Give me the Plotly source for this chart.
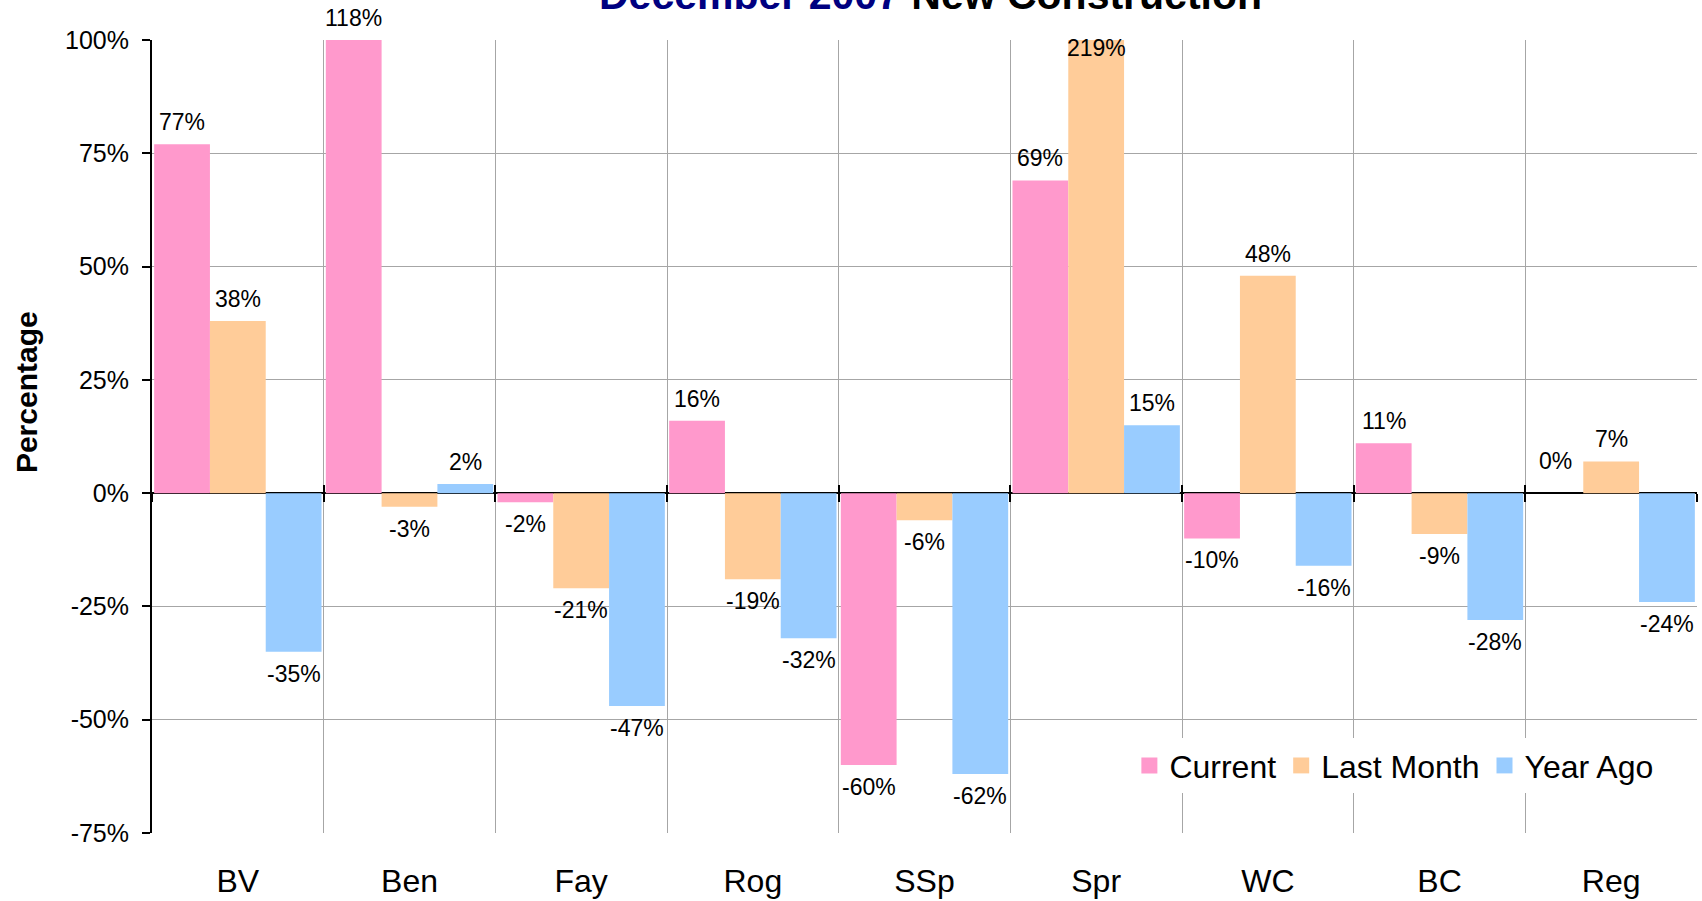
import plotly.graph_objects as go

categories = ["BV", "Ben", "Fay", "Rog", "SSp", "Spr", "WC", "BC", "Reg"]
current = [77, 118, -2, 16, -60, 69, -10, 11, 0]
last_month = [38, -3, -21, -19, -6, 219, 48, -9, 7]
year_ago = [-35, 2, -47, -32, -62, 15, -16, -28, -24]
series_names = ["Current", "Last Month", "Year Ago"]
series_values = [current, last_month, year_ago]
colors = ["#FF99CC", "#FFCC99", "#99CCFF"]
y_ticks = [-75, -50, -25, 0, 25, 50, 75, 100]
y_min, y_max = -75, 100

FONT = "Liberation Sans, Arial, sans-serif"

fig = go.Figure()
for name, vals, col in zip(series_names, series_values, colors):
    fig.add_trace(go.Bar(
        x=categories, y=[v / 100 for v in vals], name=name,
        marker=dict(color=col, line=dict(width=0)),
        hoverinfo="x+y+name", showlegend=False,
    ))

# legend entries with larger square swatches
for name, col in zip(series_names, colors):
    fig.add_trace(go.Scatter(
        x=[None], y=[None], mode="markers", name=name,
        marker=dict(symbol="square", size=22, color=col),
        showlegend=True, hoverinfo="skip",
    ))

# invisible traces to carry the zero-line tick axes
for ax in ["x2", "x3"]:
    fig.add_trace(go.Bar(x=categories, y=[None] * len(categories), xaxis=ax,
                         showlegend=False, hoverinfo="skip"))

# data labels
n = len(series_names)
width = 0.975
label_overrides = {("Spr", "Last Month"): -8, ("Reg", "Current"): 32}
annotations = []
for si, (name, vals) in enumerate(zip(series_names, series_values)):
    for ci, (cat, v) in enumerate(zip(categories, vals)):
        off = (si - (n - 1) / 2) * width / n
        yv = max(min(v, y_max), y_min) / 100
        ys = 22 if v >= 0 else -22
        ys = label_overrides.get((cat, name), ys)
        annotations.append(dict(
            x=ci + off, y=yv, xref="x", yref="y", text=f"{v}%",
            showarrow=False, yshift=ys, yanchor="middle",
            font=dict(family=FONT, size=23, color="black"),
        ))

annotations.append(dict(
    x=0.504, y=1, xref="paper", yref="paper", yanchor="bottom", yshift=20,
    showarrow=False,
    text="<b><span style='color:#000080'>December 2007</span> New Construction</b>",
    font=dict(family=FONT, size=41, color="black"),
))
annotations.append(dict(
    x=0, y=0.556, xref="paper", yref="paper", xanchor="center", yanchor="middle",
    xshift=-126, textangle=-90, showarrow=False,
    text="<b>Percentage</b>",
    font=dict(family=FONT, size=30, color="black"),
))

zero_pos = (0 - y_min) / (y_max - y_min)

fig.update_layout(
    width=1702, height=901,
    margin=dict(l=152, r=5, t=40, b=68, autoexpand=False),
    paper_bgcolor="white", plot_bgcolor="white",
    barmode="group", bargap=0.025, bargroupgap=0,
    font=dict(family=FONT, color="black"),
    annotations=annotations,
    showlegend=True,
    legend=dict(
        orientation="h", x=0.975, xanchor="right", y=0.085, yanchor="middle",
        bgcolor="white", borderwidth=0,
        font=dict(family=FONT, size=32, color="black"),
        itemsizing="trace", traceorder="normal", itemwidth=30,
    ),
    xaxis=dict(
        type="category", range=[-0.5, len(categories) - 0.5], automargin=False,
        tickson="boundaries", showgrid=True, gridcolor="#A6A6A6", gridwidth=1,
        ticks="", showline=False, zeroline=False,
        tickfont=dict(family=FONT, size=32, color="black"),
        ticklabelstandoff=26,
    ),
    xaxis2=dict(
        type="category", overlaying="x", anchor="free", position=zero_pos,
        range=[-0.5, len(categories) - 0.5], tickson="boundaries", automargin=False,
        showgrid=False, showline=False, zeroline=False, showticklabels=False,
        ticks="outside", ticklen=8, tickwidth=2, tickcolor="black",
    ),
    xaxis3=dict(
        type="category", overlaying="x", anchor="free", position=zero_pos,
        range=[-0.5, len(categories) - 0.5], tickson="boundaries", automargin=False,
        showgrid=False, showline=False, zeroline=False, showticklabels=False,
        ticks="inside", ticklen=8, tickwidth=2, tickcolor="black",
    ),
    yaxis=dict(
        range=[y_min / 100, y_max / 100], automargin=False,
        tickvals=[t / 100 for t in y_ticks],
        ticktext=[f"{t}%" for t in y_ticks],
        showgrid=True, gridcolor="#A6A6A6", gridwidth=1,
        zeroline=True, zerolinecolor="black", zerolinewidth=2,
        showline=True, linecolor="black", linewidth=2,
        ticks="outside", ticklen=8, tickwidth=2, tickcolor="black",
        tickfont=dict(family=FONT, size=25, color="black"),
        ticklabelstandoff=8,
    ),
)

fig.write_html("out.html", config={"displayModeBar": False},
               post_script="document.body.style.margin='0';document.body.style.padding='0';")
